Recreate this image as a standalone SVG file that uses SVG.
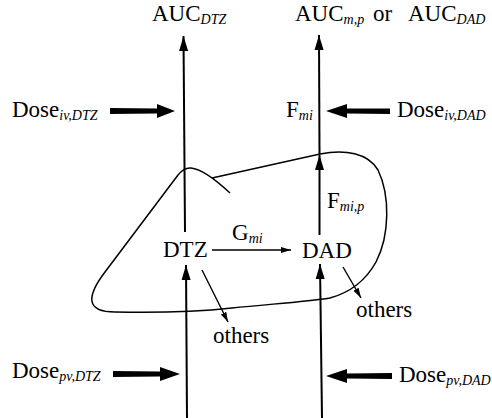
<svg xmlns="http://www.w3.org/2000/svg" width="492" height="418" viewBox="0 0 492 418">
<style>
text{font-family:"Liberation Serif","Times New Roman",serif;font-size:23px;fill:#000}
.s{font-size:14px;font-style:italic}
.ln{stroke:#000;stroke-width:2;fill:none}
.thin{stroke:#000;stroke-width:1.4;fill:none}
.blob{stroke:#000;stroke-width:1.5;fill:none;stroke-linejoin:round}
.fat{fill:#000}
</style>
<defs>
<marker id="ah" markerUnits="userSpaceOnUse" markerWidth="16" markerHeight="10" refX="15" refY="5" orient="auto"><path d="M0,0.5 L15,5 L0,9.5 Z" fill="#000"/></marker>
<marker id="as" markerUnits="userSpaceOnUse" markerWidth="11" markerHeight="8" refX="10" refY="4" orient="auto"><path d="M0,1 L10,4 L0,7 Z" fill="#000"/></marker>
</defs>
<g id="blob">
<path class="blob" d="M230,193 C216,180 202,169 191,168 C186,167.5 182,170 178,175 L105,272 C86,297 86,312 115,312 C160,313 195,312 232,308 C270,304 305,302 330,298 C352,292 366,280 376,262 C390,235 390,195 378,170 C368,153 345,149 320,154 L212,178"/>
</g>
<g id="connectors">
<line class="ln" x1="185" y1="232" x2="183.5" y2="36" marker-end="url(#ah)"/>
<line class="ln" x1="187" y1="418" x2="186" y2="265" marker-end="url(#ah)"/>
<line class="ln" x1="319.5" y1="154" x2="319" y2="35" marker-end="url(#ah)"/>
<line class="ln" x1="319.5" y1="235" x2="319.5" y2="155" marker-end="url(#ah)"/>
<line class="ln" x1="322" y1="418" x2="320" y2="264" marker-end="url(#ah)"/>
<line class="thin" x1="212" y1="250" x2="291" y2="250" marker-end="url(#as)"/>
<line class="thin" x1="202" y1="270" x2="228" y2="322" marker-end="url(#as)"/>
<line class="thin" x1="343" y1="267" x2="361" y2="298" marker-end="url(#as)"/>
<path class="fat" d="M110,108 L157,108.5 L157,104 L175,111 L157,118 L157,113.5 L110,114 Z"/>
<path class="fat" d="M390,108.5 L347,108.5 L347,104 L326,111 L347,118 L347,113.5 L390,114 Z"/>
<path class="fat" d="M113,371 L160,371.5 L160,367 L180,374 L160,381 L160,376.5 L113,377 Z"/>
<path class="fat" d="M392,373 L347,373.5 L347,369 L326,376 L347,383 L347,378.5 L392,379 Z"/>
</g>
<g id="auc-dtz"><text x="152" y="21">AUC<tspan class="s" dy="3">DTZ</tspan></text></g>
<g id="auc-dad"><text x="295" y="21">AUC<tspan class="s" dy="3">m,p</tspan></text><text x="373" y="21">or</text><text x="408" y="21">AUC<tspan class="s" dy="3">DAD</tspan></text></g>
<g id="dose-iv-dtz"><text x="12" y="117">Dose<tspan class="s" dy="3">iv,DTZ</tspan></text></g>
<g id="fmi"><text x="286" y="117">F<tspan class="s" dy="3">mi</tspan></text></g>
<g id="dose-iv-dad"><text x="397" y="117">Dose<tspan class="s" dy="3">iv,DAD</tspan></text></g>
<g id="fmip"><text x="327" y="208">F<tspan class="s" dy="3">mi,p</tspan></text></g>
<g id="gmi"><text x="232" y="240">G<tspan class="s" dy="3">mi</tspan></text></g>
<g id="dtz"><text x="163" y="257">DTZ</text></g>
<g id="dad"><text x="302" y="258">DAD</text></g>
<g id="others-dtz"><text x="213" y="343">others</text></g>
<g id="others-dad"><text x="356" y="317">others</text></g>
<g id="dose-pv-dtz"><text x="12" y="378">Dose<tspan class="s" dy="3">pv,DTZ</tspan></text></g>
<g id="dose-pv-dad"><text x="399" y="382">Dose<tspan class="s" dy="3">pv,DAD</tspan></text></g>
</svg>
